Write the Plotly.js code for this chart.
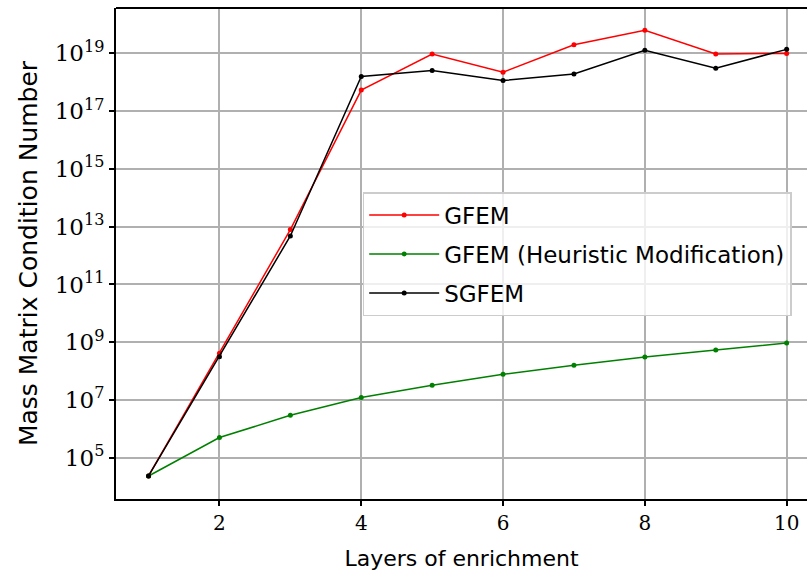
<!DOCTYPE html>
<html>
<head>
<meta charset="utf-8">
<script src="https://cdn.plot.ly/plotly-3.0.1.min.js"></script>
<style>html,body{margin:0;padding:0;background:#fff;} #chart{width:807px;height:577px;}</style>
</head>
<body>
<div id="chart"></div>
<script>
// Data (log10 values)
const layers = [1, 2, 3, 4, 5, 6, 7, 8, 9, 10];
const gfemLog = [4.37, 8.62, 12.9, 17.73, 18.98, 18.35, 19.30, 19.80, 18.98, 19.0];
const heuristicLog = [4.37, 5.70, 6.47, 7.09, 7.51, 7.89, 8.20, 8.49, 8.73, 8.97];
const sgfemLog = [4.37, 8.50, 12.68, 18.2, 18.41, 18.06, 18.29, 19.11, 18.49, 19.14];
const yTickExps = [5, 7, 9, 11, 13, 15, 17, 19];
const xTicks = [2, 4, 6, 8, 10];
const seriesNames = ["GFEM", "GFEM (Heuristic Modification)", "SGFEM"];

const pow10 = a => a.map(v => Math.pow(10, v));

function trace(name, ylog, color, grp) {
  return {
    x: layers, y: pow10(ylog), name: name, type: 'scatter', mode: 'lines+markers',
    line: {color: color, width: 1.5}, marker: {color: color, size: 5},
    legendgroup: grp
  };
}

const data = [
  trace(seriesNames[0], gfemLog, '#ff0000', 'a'),
  trace(seriesNames[1], heuristicLog, '#008000', 'b'),
  trace(seriesNames[2], sgfemLog, '#000000', 'c')
];

const layout = {
  width: 807, height: 577,
  margin: {l: 116, r: 0, t: 8, b: 78},
  paper_bgcolor: '#fff', plot_bgcolor: '#fff',
  showlegend: true,
  xaxis: {
    range: [0.541, 10.287],
    tickvals: xTicks, ticktext: xTicks.map(String),
    showgrid: true, gridcolor: '#b0b0b0', gridwidth: 2,
    showline: true, linecolor: '#000', linewidth: 2,
    ticks: 'outside', ticklen: 5, tickwidth: 2, tickcolor: '#000',
    zeroline: false,
    tickfont: {family: 'DejaVu Serif, serif', size: 20, color: '#000'},
    title: {text: 'Layers of enrichment', font: {family: 'DejaVu Sans, sans-serif', size: 22, color: '#000'}, standoff: 17}
  },
  yaxis: {
    type: 'log',
    range: [3.573, 20.572],
    tickvals: pow10(yTickExps),
    ticktext: yTickExps.map(e => '10<sup>' + e + '</sup>'),
    showgrid: true, gridcolor: '#b0b0b0', gridwidth: 2,
    showline: true, linecolor: '#000', linewidth: 2,
    ticks: 'outside', ticklen: 5, tickwidth: 2, tickcolor: '#000',
    zeroline: false,
    tickfont: {family: 'DejaVu Serif, serif', size: 23, color: '#000'},
    title: {text: 'Mass Matrix Condition Number', font: {family: 'DejaVu Sans, sans-serif', size: 25, color: '#000'}, standoff: 10}
  },
  legend: {
    x: 0.357, y: 0.625, xanchor: 'left', yanchor: 'top',
    bgcolor: 'rgba(255,255,255,0.8)', bordercolor: '#cccccc', borderwidth: 1.5,
    font: {family: 'DejaVu Sans, sans-serif', size: 23, color: '#000'},
    traceorder: 'grouped', tracegroupgap: 6, itemwidth: 70
  },
  shapes: [
    {type: 'line', xref: 'paper', yref: 'paper', x0: 0, x1: 1, y0: 1, y1: 1, line: {color: '#000', width: 2}}
  ]
};

Plotly.newPlot('chart', data, layout, {displayModeBar: false, staticPlot: true});
</script>
</body>
</html>
